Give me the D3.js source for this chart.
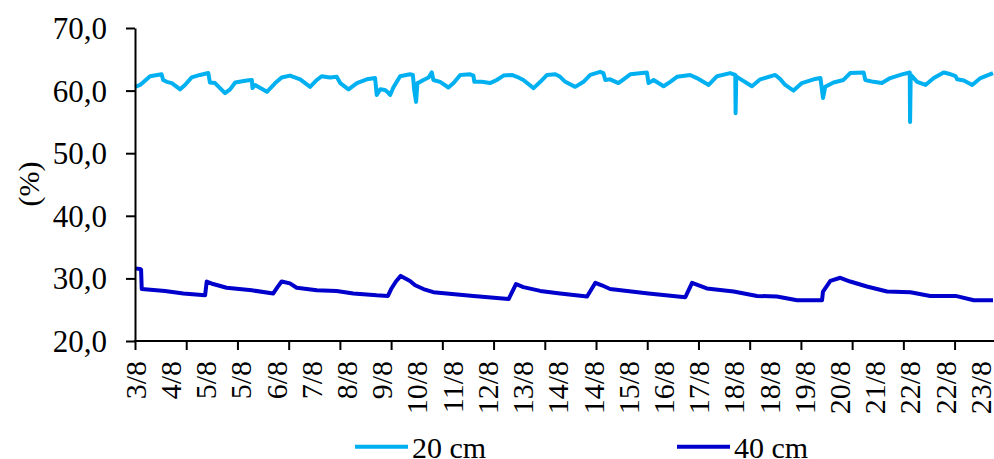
<!DOCTYPE html>
<html><head><meta charset="utf-8">
<script src="https://cdn.jsdelivr.net/npm/d3@7"></script>
<style>
html,body{margin:0;padding:0;background:#fff;}
svg{display:block;}
text{font-family:"Liberation Serif","Times New Roman",serif;fill:#000;}
</style></head>
<body>
<svg id="chart" width="994" height="459"></svg>
<script>
// ---- data (x in category-index units, y in %) ----
const xLabels = ["3/8","4/8","5/8","5/8","6/8","7/8","8/8","9/8","10/8","11/8","12/8","13/8","14/8","14/8","15/8","16/8","17/8","18/8","18/8","19/8","20/8","21/8","22/8","22/8","23/8"];
const labelStep = 11;   // category points between labels
const tickStep = 16;    // category points between tick marks
const xMax = 268;       // last category index
const yTicks = [20,30,40,50,60,70];
const seriesNames = ["20 cm","40 cm"];
const seriesColors = ["#00B0F0","#0000CC"];

const series20 = [[0,60.6],[1.6,60.9],[4.7,62.3],[8.3,62.6],[8.8,61.7],[9.9,61.4],[11.5,61.2],[14.1,60.2],[15.6,60.9],[17.7,62.1],[20.3,62.5],[22.9,62.8],[23.4,61.3],[25,61.2],[28.1,59.6],[29.7,60.2],[31.3,61.3],[34.9,61.6],[36.5,61.7],[36.7,60.4],[37.5,60.9],[41.2,59.8],[43.8,61.2],[45.8,62.1],[48.4,62.4],[51.6,61.8],[54.7,60.6],[56.8,61.7],[58.3,62.3],[60.9,62.1],[63,62.2],[64.1,61.2],[66.7,60.2],[69.3,61.2],[72.4,61.8],[75,62.0],[75.5,59.3],[76.6,60.2],[78.1,60.1],[79.2,59.6],[79.7,59.3],[80.7,60.5],[82.8,62.3],[85.9,62.6],[86.8,62.5],[87.2,60.1],[87.8,58.2],[88.2,61.2],[89.1,61.4],[90.1,61.7],[91.7,62.1],[92.7,62.9],[93.2,61.7],[95.3,61.4],[97.9,60.5],[99.5,61.2],[101.6,62.5],[104.7,62.6],[105.7,62.4],[106,61.4],[108.3,61.4],[110.9,61.2],[113,61.7],[115.1,62.4],[117.7,62.5],[119.3,62.2],[121.3,61.7],[124.5,60.4],[126.6,61.4],[128.7,62.5],[131.3,62.6],[132.8,62.2],[134.4,61.4],[137.5,60.6],[140.1,61.4],[142.2,62.5],[145.3,63.0],[146.3,62.8],[146.9,61.7],[148.4,61.8],[151,61.2],[152.6,61.8],[154.7,62.6],[159.9,62.9],[160.4,61.2],[162,61.7],[165.1,60.7],[167.2,61.4],[169.3,62.2],[173.4,62.5],[175.5,62.0],[179.2,60.9],[181.8,62.3],[185.9,62.8],[187.5,62.5],[187.6,56.4],[187.8,62.3],[188,62.2],[192.7,60.7],[195.3,61.8],[200,62.5],[201.6,61.8],[203.1,60.9],[205.7,60.0],[208.3,61.2],[212,61.8],[214.1,62.0],[214.9,58.8],[215.6,60.6],[218.2,61.3],[221.3,61.7],[223.4,62.8],[227.6,62.9],[228.1,61.7],[230.7,61.4],[233.3,61.2],[235.9,62.0],[239.6,62.6],[242,62.9],[242.1,55.0],[242.3,62.5],[242.7,62.3],[244.3,61.4],[246.9,60.9],[249.5,62.0],[252.6,62.9],[254.2,62.7],[256.3,62.3],[256.8,61.8],[258.9,61.6],[261.5,60.9],[264.1,62.0],[268,62.8]];

const series40 = [[0,31.6],[1.6,31.5],[1.9,31.4],[2.1,28.3],[9.4,28.0],[15.1,27.6],[21.9,27.3],[22.4,29.5],[24.4,29.1],[28.6,28.5],[36.5,28.1],[43.2,27.6],[44.5,28.6],[45.8,29.5],[48.4,29.2],[50.5,28.5],[56.8,28.1],[63,28.0],[68.2,27.6],[75.5,27.3],[79,27.2],[80,28.3],[81.5,29.5],[83,30.4],[85.9,29.6],[87.5,28.9],[90.1,28.3],[93.2,27.8],[105.7,27.2],[116.7,26.7],[119,29.1],[121.3,28.6],[126.6,28.0],[132.8,27.6],[141.2,27.1],[143.8,29.3],[145.8,28.9],[148.4,28.3],[160.4,27.6],[171.9,27.0],[174,29.3],[178.6,28.4],[187,27.9],[194.3,27.2],[200.5,27.1],[206.8,26.5],[214.6,26.5],[214.9,27.9],[217.2,29.6],[220.3,30.1],[223.4,29.5],[228.6,28.7],[234.9,27.9],[242.2,27.8],[248.4,27.2],[256.3,27.2],[262,26.5],[268,26.5]];

// ---- drawing ----
const svg = d3.select("#chart");
const FS = 30;
const x = d3.scaleLinear().domain([0, xMax]).range([135, 993]);
const y = d3.scaleLinear().domain([20, 70]).range([341, 28]);

// lines
const line = d3.line().x(d => x(d[0])).y(d => y(d[1]));
[series20, series40].forEach((s, i) => {
  svg.append("path").datum(s)
    .attr("fill", "none")
    .attr("stroke", seriesColors[i])
    .attr("stroke-width", 4)
    .attr("stroke-linejoin", "round")
    .attr("stroke-linecap", "butt")
    .attr("d", line);
});

// y axis
const yAxis = svg.append("g").attr("transform", "translate(135,0)")
  .call(d3.axisLeft(y).tickValues(yTicks).tickSize(9).tickSizeOuter(0).tickPadding(19)
    .tickFormat(d => d.toFixed(1).replace(".", ",")));
yAxis.selectAll("path,line").attr("stroke", "#000").attr("stroke-width", 2);
yAxis.selectAll("text").attr("font-size", 31).attr("font-family", "Liberation Serif").attr("dy", "0.34em");

// x axis tick marks
const xAxis = svg.append("g").attr("transform", "translate(0,341)")
  .call(d3.axisBottom(x).tickValues(d3.range(0, xMax + 1, tickStep)).tickSize(9).tickSizeOuter(0).tickFormat(""));
xAxis.select(".domain").attr("d", "M134,0H994");
xAxis.selectAll("path,line").attr("stroke", "#000").attr("stroke-width", 2);

// x axis labels
const xLab = svg.append("g").attr("transform", "translate(0,341)")
  .call(d3.axisBottom(x).tickValues(xLabels.map((_, k) => k * labelStep)).tickSize(0)
    .tickFormat((d, k) => xLabels[k]));
xLab.select(".domain").remove();
xLab.selectAll("text")
  .attr("font-size", FS).attr("font-family", "Liberation Serif")
  .attr("transform", "rotate(-90)")
  .attr("text-anchor", "end")
  .attr("x", -20).attr("y", 0).attr("dy", "0.34em");

// y title
svg.append("text")
  .attr("transform", "translate(29,184) rotate(-90)")
  .attr("text-anchor", "middle").attr("dy", "0.34em")
  .attr("font-size", FS)
  .text("(%)");

// legend
const legX = [355, 677];
seriesNames.forEach((n, i) => {
  svg.append("line").attr("x1", legX[i]).attr("x2", legX[i] + 53)
    .attr("y1", 446.7).attr("y2", 446.7)
    .attr("stroke", seriesColors[i]).attr("stroke-width", 4);
  svg.append("text").attr("x", legX[i] + 57).attr("y", 458)
    .attr("font-size", FS).text(n);
});
</script>
</body></html>
